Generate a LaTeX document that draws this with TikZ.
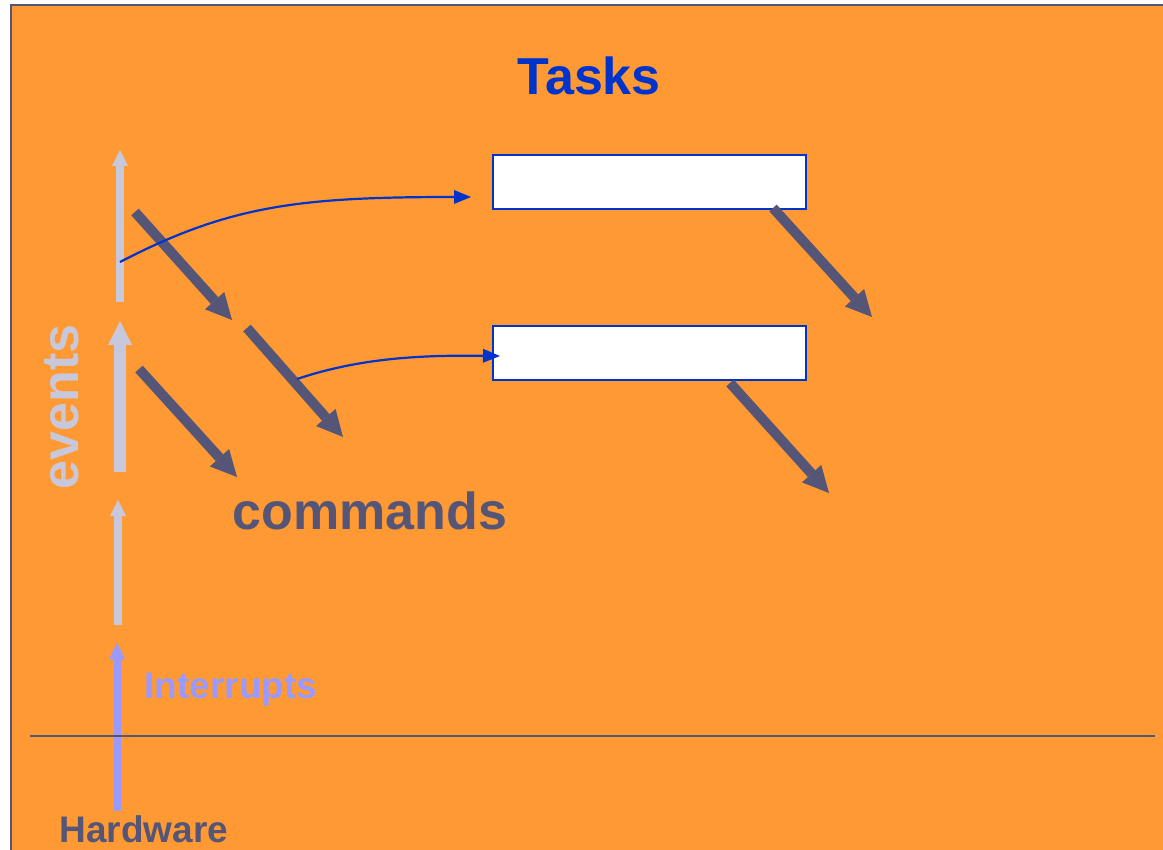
\documentclass[tikz,border=0pt]{standalone}
\usepackage{fontspec}
\setmainfont{Liberation Sans}
\usetikzlibrary{arrows.meta,positioning}
\definecolor{slidebg}{HTML}{FF9933}
\definecolor{slate}{HTML}{555577}
\definecolor{evgray}{HTML}{C8C8DC}
\definecolor{taskblue}{HTML}{0033CC}
\definecolor{irqblue}{HTML}{9999FF}

\begin{document}
\begin{tikzpicture}[x=1pt,y=-1pt,
  taskbox/.style={draw=taskblue,fill=white,line width=2pt,minimum width=313pt,minimum height=54pt,inner sep=0pt},
  cmdarrow/.style={draw=slate,line width=10pt,-{Triangle[length=26pt,width=26pt,line width=0pt]}},
  evarrow/.style={draw=evgray,line width=8pt,-{Triangle[length=16pt,width=16pt,line width=0pt]}},
  postarrow/.style={draw=taskblue,line width=2.2pt,-{Triangle[length=17pt,width=14pt,line width=0pt]}},
  bigtext/.style={font=\bfseries\fontsize{52}{60}\selectfont},
  smalltext/.style={font=\bfseries\fontsize{37}{44}\selectfont}]
  \useasboundingbox (0,0) rectangle (1163,850);
  \clip (0,0) rectangle (1163,850);
  \fill[white] (0,0) rectangle (1163,850);
  \draw[slate,line width=2pt,fill=slidebg] (11,5) rectangle (1180,870);

  % Nodes
  \node[bigtext,text=taskblue] (tasks) at (589,76) {Tasks};
  \node[taskbox] (task1) at (649.5,182) {};
  \node[taskbox] (task2) at (649.5,353) {};
  \node[bigtext,text=slate] (commands) at (370,511) {commands};
  \node[bigtext,text=evgray,rotate=90] (events) at (62,407) {events};
  \node[smalltext,text=irqblue] (irq) at (231,690) {Interrupts};
  \node[smalltext,text=slate] (hw) at (144,829) {Hardware};

  % end points
  \coordinate (ev1a) at (120,302);  \coordinate (ev1b) at (120,150);
  \coordinate (ev2a) at (120,472);  \coordinate (ev2b) at (120,321);
  \coordinate (ev3a) at (118,625);  \coordinate (ev3b) at (118,500);
  \coordinate (irqa) at (117,811);  \coordinate (irqb) at (117,643);
  \coordinate (cmd1a) at (135,212); \coordinate (cmd1b) at (232,320);
  \coordinate (cmd2a) at (247,328); \coordinate (cmd2b) at (343,437);
  \coordinate (cmd3a) at (139,369); \coordinate (cmd3b) at (237,477);
  \coordinate (cmd4a) at (773,208); \coordinate (cmd4b) at (872,317);
  \coordinate (cmd5a) at (730,383); \coordinate (cmd5b) at (829,493);
  \coordinate (post1) at (120,262);
  \coordinate (post2) at (297,379);
  \coordinate (hwl) at (30,736);    \coordinate (hwr) at (1155,736);

  % Arrows
  \draw[evarrow] (ev1a) -- (ev1b);
  \draw[evarrow,line width=12pt,-{Triangle[length=24pt,width=24pt,line width=0pt]}] (ev2a) -- (ev2b);
  \draw[evarrow] (ev3a) -- (ev3b);
  \draw[evarrow,draw=irqblue,line width=7pt] (irqa) -- (irqb);
  \draw[cmdarrow] (cmd1a) -- (cmd1b);
  \draw[cmdarrow] (cmd2a) -- (cmd2b);
  \draw[cmdarrow] (cmd3a) -- (cmd3b);
  \draw[cmdarrow] (cmd4a) -- (cmd4b);
  \draw[cmdarrow] (cmd5a) -- (cmd5b);
  \draw[postarrow] (post1) .. controls (230,205) and (300,197) .. ([xshift=-21pt,yshift=-15pt]task1.west);
  \draw[postarrow] (post2) .. controls (360,358) and (420,355) .. ([xshift=8pt,yshift=-3pt]task2.west);

  % Hardware boundary
  \draw[slate,line width=2pt] (hwl) -- (hwr);
\end{tikzpicture}
\end{document}
